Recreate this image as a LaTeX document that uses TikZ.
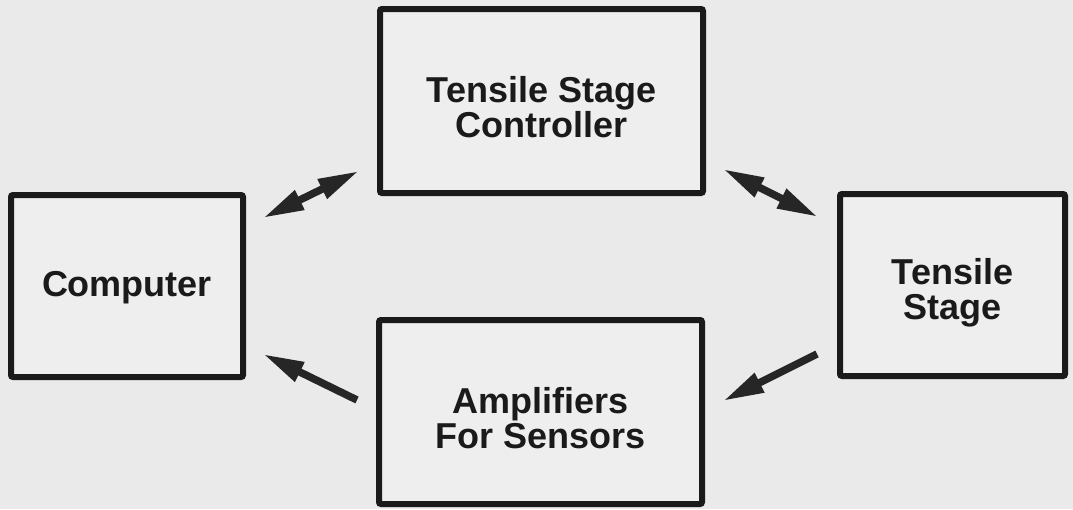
\documentclass[tikz,border=0pt]{standalone}
\usepackage{fontspec}
\setmainfont{Liberation Sans}
\usetikzlibrary{arrows.meta}
\definecolor{bggray}{RGB}{234,234,234}
\definecolor{boxgray}{RGB}{238,238,238}
\definecolor{ink}{RGB}{26,26,26}
\definecolor{arrowink}{RGB}{38,38,38}
\begin{document}
\begin{tikzpicture}[x=1pt,y=-1pt,
  blockbox/.style={draw=ink, fill=boxgray, line width=6pt, rounded corners=2pt, inner sep=0pt},
  blocklabel/.style={font=\fontsize{36}{35}\selectfont\bfseries, text=ink, align=center, inner sep=0pt},
  link/.style={draw=arrowink, line width=7.5pt},
  >={Triangle[length=41pt,width=20pt]}
]
\fill[bggray] (0,0) rectangle (1073,509);
\useasboundingbox (0,0) rectangle (1073,509);

% boxes
\node[blockbox, minimum width=232pt, minimum height=182pt] (comp) at (127,286) {};
\node[blockbox, minimum width=323pt, minimum height=184pt] (ctrl) at (541.5,101) {};
\node[blockbox, minimum width=225pt, minimum height=182pt] (stage) at (952.5,285) {};
\node[blockbox, minimum width=323pt, minimum height=184pt] (amp) at (540.5,412) {};

% labels
\node[blocklabel] (compt) at ([yshift=-2pt]comp.center) {Computer};
\node[blocklabel] (ctrlt) at ([yshift=-6pt]ctrl.center) {Tensile Stage\\Controller};
\node[blocklabel] (staget) at ([yshift=-8pt]stage.center) {Tensile\\Stage};
\node[blocklabel] (ampt) at ([yshift=-6.5pt]amp.center) {Amplifiers\\For Sensors};

% connector end points
\coordinate (a1s) at (263,218); \coordinate (a1e) at (359,171);
\coordinate (a2s) at (723,169); \coordinate (a2e) at (818,217);
\coordinate (a3s) at (357,400); \coordinate (a3e) at (263,354);
\coordinate (a4s) at (817,354); \coordinate (a4e) at (723,401);

\draw[link,<->] (a1s) -- (a1e);
\draw[link,<->] (a2s) -- (a2e);
\draw[link,->] (a3s) -- (a3e);
\draw[link,->] (a4s) -- (a4e);
\end{tikzpicture}
\end{document}
